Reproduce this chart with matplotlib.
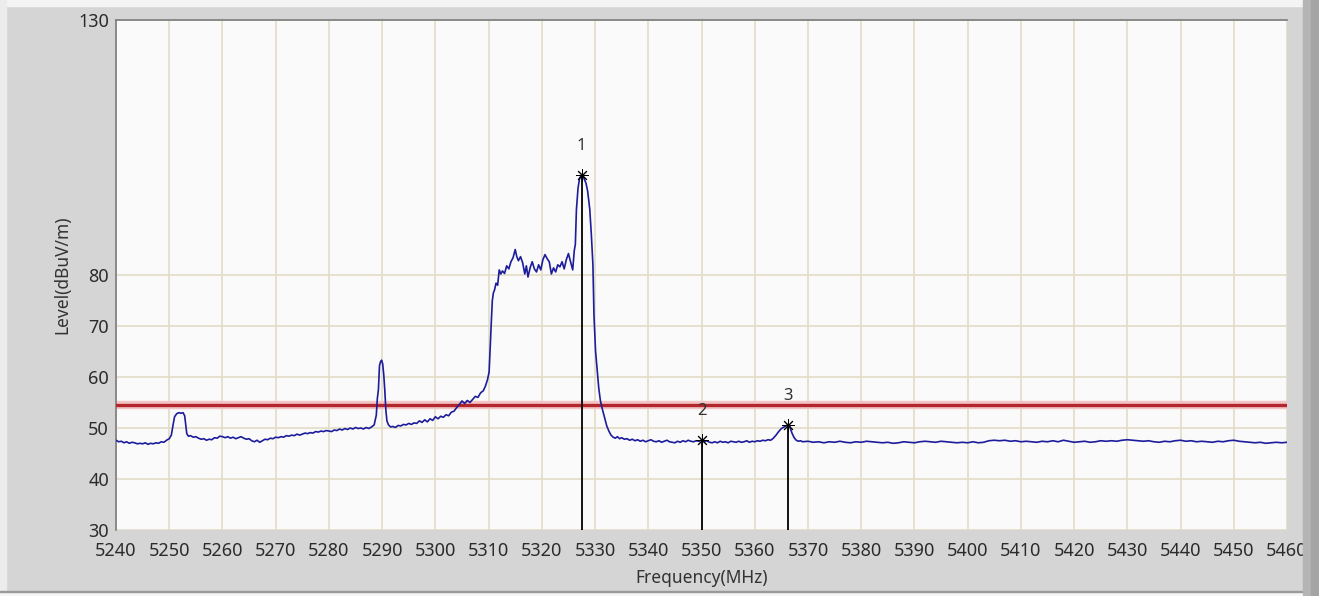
import matplotlib.pyplot as plt
from matplotlib.patches import Rectangle

# spectrum trace: (MHz, dBuV/m)
trace = [
    (5240.0, 47.6), (5240.5, 47.3), (5241.0, 47.4), (5241.5, 47.1), (5242.0, 47.3), (5242.5, 47.0),
    (5243.0, 47.2), (5243.5, 47.1), (5244.0, 46.9), (5244.5, 47.0), (5245.0, 46.9), (5245.5, 47.1),
    (5246.0, 46.8), (5246.5, 47.0), (5247.0, 46.9), (5247.5, 47.1), (5248.0, 47.0), (5248.5, 47.3),
    (5249.0, 47.2), (5249.5, 47.6), (5250.0, 47.9), (5250.4, 48.6), (5250.7, 50.5), (5251.0, 52.2),
    (5251.4, 52.8), (5251.8, 53.0), (5252.2, 52.9), (5252.6, 53.0), (5252.9, 52.4), (5253.1, 50.6),
    (5253.3, 48.9), (5253.6, 48.4), (5254.0, 48.5), (5254.5, 48.2), (5255.0, 48.3), (5255.5, 48.0),
    (5256.0, 47.8), (5256.5, 47.9), (5257.0, 47.6), (5257.5, 47.8), (5258.0, 47.7), (5258.5, 48.1),
    (5259.0, 48.0), (5259.5, 48.4), (5260.0, 48.3), (5260.5, 48.1), (5261.0, 48.3), (5261.5, 48.0),
    (5262.0, 48.2), (5262.5, 47.9), (5263.0, 48.1), (5263.5, 48.3), (5264.0, 48.0), (5264.5, 47.8),
    (5265.0, 47.9), (5265.5, 47.5), (5266.0, 47.3), (5266.5, 47.6), (5267.0, 47.2), (5267.5, 47.5),
    (5268.0, 47.8), (5268.5, 47.7), (5269.0, 48.0), (5269.5, 47.9), (5270.0, 48.2), (5270.5, 48.1),
    (5271.0, 48.3), (5271.5, 48.2), (5272.0, 48.5), (5272.5, 48.4), (5273.0, 48.6), (5273.5, 48.5),
    (5274.0, 48.8), (5274.5, 48.6), (5275.0, 48.8), (5275.5, 49.0), (5276.0, 48.9), (5276.5, 49.1),
    (5277.0, 49.0), (5277.5, 49.3), (5278.0, 49.2), (5278.5, 49.4), (5279.0, 49.3), (5279.5, 49.5),
    (5280.0, 49.4), (5280.5, 49.3), (5281.0, 49.6), (5281.5, 49.5), (5282.0, 49.8), (5282.5, 49.6),
    (5283.0, 49.9), (5283.5, 49.7), (5284.0, 50.0), (5284.5, 49.8), (5285.0, 50.1), (5285.5, 49.9),
    (5286.0, 50.0), (5286.5, 49.8), (5287.0, 50.1), (5287.5, 49.9), (5288.0, 50.2), (5288.5, 50.6),
    (5288.9, 52.5), (5289.1, 55.8), (5289.3, 57.5), (5289.5, 62.2), (5289.7, 63.0), (5289.9, 63.3),
    (5290.1, 62.6), (5290.3, 60.5), (5290.5, 57.4), (5290.7, 53.5), (5290.9, 51.4), (5291.2, 50.6),
    (5291.6, 50.2), (5292.0, 50.3), (5292.5, 50.1), (5293.0, 50.5), (5293.5, 50.4), (5294.0, 50.7),
    (5294.5, 50.6), (5295.0, 50.9), (5295.5, 50.7), (5296.0, 51.0), (5296.5, 50.9), (5297.0, 51.4),
    (5297.5, 51.1), (5298.0, 51.6), (5298.5, 51.2), (5299.0, 51.8), (5299.5, 51.5), (5300.0, 52.2),
    (5300.5, 51.8), (5301.0, 52.3), (5301.5, 52.1), (5302.0, 52.6), (5302.5, 52.4), (5303.0, 53.1),
    (5303.5, 53.3), (5304.0, 54.0), (5304.5, 54.6), (5305.0, 55.3), (5305.5, 54.8), (5306.0, 55.4),
    (5306.5, 55.0), (5307.0, 55.6), (5307.5, 56.2), (5308.0, 56.0), (5308.5, 56.9), (5309.0, 57.3),
    (5309.4, 58.2), (5309.8, 59.5), (5310.1, 61.0), (5310.3, 66.0), (5310.5, 70.5), (5310.7, 75.0),
    (5310.9, 76.5), (5311.1, 77.0), (5311.4, 78.4), (5311.7, 78.0), (5312.0, 81.0), (5312.3, 80.2),
    (5312.6, 80.8), (5313.0, 80.3), (5313.4, 81.8), (5313.8, 81.2), (5314.2, 82.6), (5314.6, 83.4),
    (5315.0, 85.0), (5315.3, 83.6), (5315.6, 82.8), (5316.0, 83.6), (5316.4, 82.4), (5316.8, 80.2),
    (5317.1, 81.8), (5317.4, 79.6), (5317.8, 81.4), (5318.2, 82.6), (5318.6, 81.2), (5319.0, 80.6),
    (5319.4, 82.0), (5319.8, 81.0), (5320.2, 83.0), (5320.6, 84.0), (5321.0, 83.2), (5321.4, 82.6),
    (5321.8, 80.2), (5322.2, 81.4), (5322.6, 80.6), (5323.0, 82.0), (5323.4, 81.6), (5323.8, 82.6),
    (5324.2, 81.2), (5324.6, 83.0), (5325.0, 84.2), (5325.4, 82.6), (5325.8, 81.0), (5326.1, 84.8),
    (5326.3, 86.0), (5326.5, 92.8), (5326.8, 97.0), (5327.1, 99.0), (5327.5, 99.6), (5327.9, 99.0),
    (5328.3, 98.0), (5328.6, 96.5), (5329.0, 93.0), (5329.3, 88.0), (5329.6, 82.0), (5329.8, 72.0),
    (5330.1, 65.0), (5330.4, 61.5), (5330.7, 57.8), (5331.0, 55.4), (5331.3, 54.0), (5331.6, 52.8),
    (5331.9, 51.6), (5332.2, 50.4), (5332.6, 49.4), (5333.0, 48.6), (5333.4, 48.2), (5333.8, 48.0),
    (5334.2, 48.3), (5334.6, 47.9), (5335.0, 48.1), (5335.5, 47.8), (5336.0, 47.9), (5336.5, 47.6),
    (5337.0, 47.8), (5337.5, 47.5), (5338.0, 47.7), (5338.5, 47.4), (5339.0, 47.6), (5339.5, 47.3),
    (5340.0, 47.5), (5340.5, 47.7), (5341.0, 47.4), (5341.5, 47.3), (5342.0, 47.5), (5342.5, 47.2),
    (5343.0, 47.4), (5343.5, 47.6), (5344.0, 47.3), (5344.5, 47.2), (5345.0, 47.1), (5345.5, 47.4),
    (5346.0, 47.2), (5346.5, 47.5), (5347.0, 47.3), (5347.5, 47.6), (5348.0, 47.4), (5348.5, 47.3),
    (5349.0, 47.5), (5349.5, 47.4), (5350.0, 47.6), (5350.5, 47.3), (5351.0, 47.5), (5351.5, 47.2),
    (5352.0, 47.1), (5352.5, 47.3), (5353.0, 47.1), (5353.5, 47.4), (5354.0, 47.2), (5354.5, 47.3),
    (5355.0, 47.1), (5355.5, 47.4), (5356.0, 47.3), (5356.5, 47.2), (5357.0, 47.4), (5357.5, 47.2),
    (5358.0, 47.3), (5358.5, 47.5), (5359.0, 47.2), (5359.5, 47.4), (5360.0, 47.3), (5360.5, 47.5),
    (5361.0, 47.4), (5361.5, 47.6), (5362.0, 47.5), (5362.5, 47.7), (5363.0, 47.6), (5363.5, 48.0),
    (5364.0, 48.6), (5364.5, 49.3), (5365.0, 49.9), (5365.5, 50.2), (5366.0, 50.5), (5366.3, 50.6),
    (5366.6, 50.2), (5367.0, 49.0), (5367.4, 48.1), (5367.8, 47.6), (5368.2, 47.4), (5368.6, 47.5),
    (5369.0, 47.3), (5370.0, 47.4), (5371.0, 47.2), (5372.0, 47.3), (5373.0, 47.1), (5374.0, 47.3),
    (5375.0, 47.2), (5376.0, 47.4), (5377.0, 47.2), (5378.0, 47.1), (5379.0, 47.3), (5380.0, 47.2),
    (5381.0, 47.4), (5382.0, 47.3), (5383.0, 47.2), (5384.0, 47.1), (5385.0, 47.2), (5386.0, 47.0),
    (5387.0, 47.1), (5388.0, 47.3), (5389.0, 47.2), (5390.0, 47.1), (5391.0, 47.3), (5392.0, 47.4),
    (5393.0, 47.3), (5394.0, 47.2), (5395.0, 47.4), (5396.0, 47.3), (5397.0, 47.2), (5398.0, 47.1),
    (5399.0, 47.2), (5400.0, 47.1), (5401.0, 47.3), (5402.0, 47.1), (5403.0, 47.2), (5404.0, 47.5),
    (5405.0, 47.6), (5406.0, 47.5), (5407.0, 47.6), (5408.0, 47.4), (5409.0, 47.5), (5410.0, 47.3),
    (5411.0, 47.4), (5412.0, 47.3), (5413.0, 47.2), (5414.0, 47.4), (5415.0, 47.3), (5416.0, 47.5),
    (5417.0, 47.3), (5418.0, 47.6), (5419.0, 47.4), (5420.0, 47.2), (5421.0, 47.3), (5422.0, 47.4),
    (5423.0, 47.2), (5424.0, 47.3), (5425.0, 47.5), (5426.0, 47.4), (5427.0, 47.5), (5428.0, 47.4),
    (5429.0, 47.6), (5430.0, 47.7), (5431.0, 47.6), (5432.0, 47.5), (5433.0, 47.4), (5434.0, 47.5),
    (5435.0, 47.3), (5436.0, 47.2), (5437.0, 47.4), (5438.0, 47.3), (5439.0, 47.5), (5440.0, 47.6),
    (5441.0, 47.4), (5442.0, 47.5), (5443.0, 47.3), (5444.0, 47.4), (5445.0, 47.3), (5446.0, 47.2),
    (5447.0, 47.4), (5448.0, 47.3), (5449.0, 47.5), (5450.0, 47.6), (5451.0, 47.4), (5452.0, 47.3),
    (5453.0, 47.2), (5454.0, 47.1), (5455.0, 47.2), (5456.0, 47.0), (5457.0, 47.1), (5458.0, 47.2),
    (5459.0, 47.1), (5460.0, 47.2),
]

limit_level = 54.5

marker_freq = [5327.5, 5350.0, 5366.3]
marker_level = [99.6, 47.6, 50.6]
marker_labels = ['1', '2', '3']

x_ticks = list(range(5240, 5461, 10))
y_ticks = [30, 40, 50, 60, 70, 80, 130]

plt.rcParams['font.family'] = ['Noto Sans', 'DejaVu Sans']

fig = plt.figure(figsize=(13.19, 5.96), dpi=100, facecolor='#d5d5d5')

# window frame around the panel
W, H = 1319, 596
fig.patches.append(Rectangle((0, 1 - 6 / H), 1, 6 / H, transform=fig.transFigure, color='#f4f4f4', zorder=0))
fig.patches.append(Rectangle((0, 0), 6 / W, 1, transform=fig.transFigure, color='#ececec', zorder=0))
fig.patches.append(Rectangle((0, 0), 1, 4 / H, transform=fig.transFigure, color='#f6f6f6', zorder=0))
fig.patches.append(Rectangle((0, 4 / H), 1, 1.5 / H, transform=fig.transFigure, color='#9a9a9a', zorder=0))
fig.patches.append(Rectangle((1 - 16 / W, 0), 16 / W, 1, transform=fig.transFigure, color='#b4b4b4', zorder=0))
fig.patches.append(Rectangle((1 - 8 / W, 0), 8 / W, 1, transform=fig.transFigure, color='#a4a4a4', zorder=0))

ax = fig.add_axes([116 / W, 1 - 530 / H, (1287 - 116) / W, 510 / H])
ax.set_facecolor('#fafafa')

freq = [p[0] for p in trace]
level = [p[1] for p in trace]

ax.axhline(limit_level, color='#f2c4c4', lw=6, zorder=2)
ax.axhline(limit_level, color='#b3262c', lw=2.4, zorder=3)
ax.plot(freq, level, color='#1c1c9c', lw=1.2, zorder=4)

for f, l, lab in zip(marker_freq, marker_level, marker_labels):
    ax.plot([f, f], [30, l], color='black', lw=1.3, zorder=5)
    ax.plot(f, l, marker=(8, 2, 0), ms=9, mew=0.7, color='black', zorder=6)
    ax.annotate(lab, (f, l), xytext=(0, 21), textcoords='offset points',
                ha='center', va='center', fontsize=12, color='#333333')

ax.set_xlim(5240, 5460)
ax.set_ylim(30, 130)
ax.set_xticks(x_ticks)
ax.set_yticks(y_ticks)
ax.grid(True, color='#e2ddc6', lw=1.2, zorder=1)
ax.set_axisbelow(True)
ax.tick_params(length=0, labelsize=13, colors='#2b2b2b')
ax.tick_params(axis='x', pad=9)
ax.tick_params(axis='y', pad=5)

for side in ['right', 'bottom']:
    ax.spines[side].set_visible(False)
for side in ['left', 'top']:
    ax.spines[side].set_color('#7c7c7c')
    ax.spines[side].set_linewidth(1.2)

ax.set_xlabel('Frequency(MHz)', fontsize=12.5, color='#333333')
ax.set_ylabel('Level(dBuV/m)', fontsize=12.5, color='#333333')
ax.xaxis.set_label_coords(0.5, -0.077)
ax.yaxis.set_label_coords(-0.038, 0.5)

plt.savefig('out.png', dpi=100, facecolor=fig.get_facecolor())
